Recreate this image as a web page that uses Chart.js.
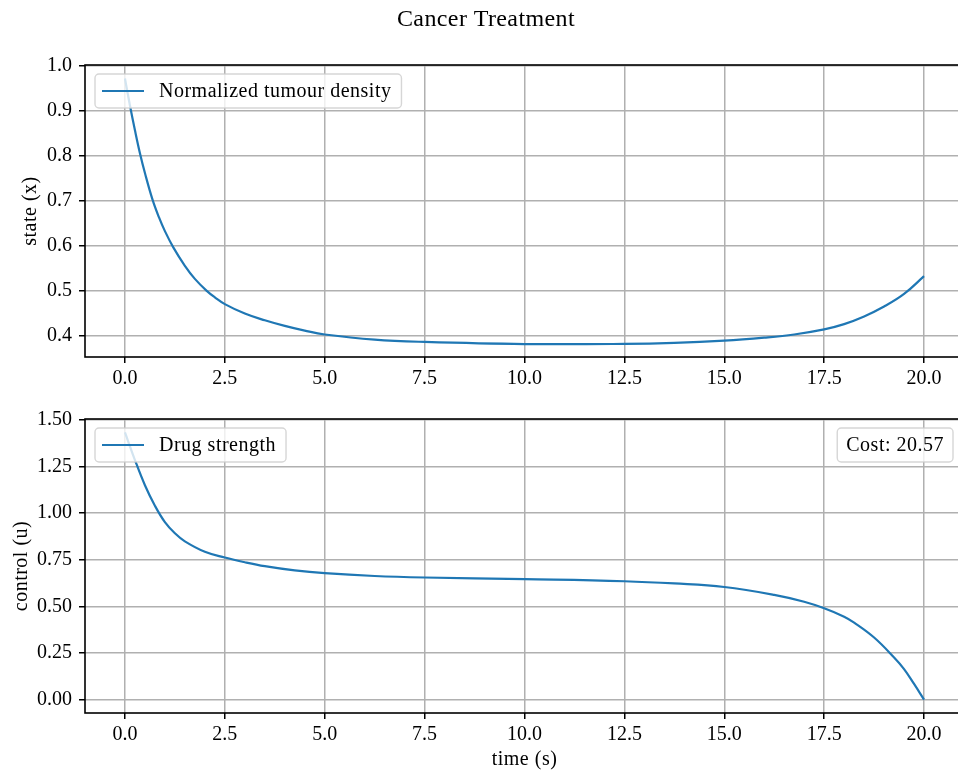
<!DOCTYPE html>
<html>
<head>
<meta charset="utf-8">
<script src="https://cdn.jsdelivr.net/npm/chart.js@4.4.1/dist/chart.umd.min.js"></script>
<style>
  html, body { margin: 0; padding: 0; background: #fff; overflow: hidden; }
  #wrap { position: relative; width: 958px; height: 771px; overflow: hidden; }
  canvas { position: absolute; left: 0; }
  #chartEtat { top: 0; }
  #chartCommande { top: 400px; }
</style>
</head>
<body>
<div id="wrap">
  <canvas id="chartEtat" width="964" height="397"></canvas>
  <canvas id="chartCommande" width="964" height="371"></canvas>
</div>
<script>
// ── Données ─────────────────────────────────────────────
// état x(t) : densité tumorale normalisée
const tempsEtat = [0, 0.125, 0.25, 0.375, 0.5, 0.69, 0.85, 1.0, 1.21, 1.5, 1.75, 2.04, 2.25, 2.5, 3.0, 3.5, 4.0, 4.5, 5.0, 6.25, 7.5, 10, 12.5, 13.75, 15, 16, 16.75, 17.5, 18, 18.5, 19, 19.5, 20];
const valeursEtat = [0.972, 0.912, 0.857, 0.806, 0.762, 0.703, 0.664, 0.633, 0.597, 0.556, 0.527, 0.501, 0.486, 0.471, 0.450, 0.435, 0.4225, 0.412, 0.4035, 0.392, 0.387, 0.3823, 0.3826, 0.3848, 0.3898, 0.3965, 0.4035, 0.4148, 0.4265, 0.4435, 0.4655, 0.4935, 0.533];

// commande u(t) : dose de médicament
const tempsCommande = [0, 0.25, 0.5, 0.75, 1.0, 1.25, 1.5, 2.0, 2.5, 3.0, 3.5, 4.25, 5.0, 6.25, 7.5, 10, 12.5, 13.75, 15, 16.25, 17.0, 17.5, 18.0, 18.25, 18.75, 19.25, 19.5, 19.75, 20];
const valeursCommande = [1.433, 1.285, 1.150, 1.040, 0.952, 0.892, 0.849, 0.793, 0.762, 0.737, 0.716, 0.693, 0.678, 0.663, 0.655, 0.646, 0.635, 0.623, 0.604, 0.562, 0.525, 0.49, 0.445, 0.413, 0.333, 0.226, 0.164, 0.084, 0.0];

// graduations
const ticksTemps = [0, 2.5, 5, 7.5, 10, 12.5, 15, 17.5, 20];
const ticksEtat = [0.4, 0.5, 0.6, 0.7, 0.8, 0.9, 1.0];
const ticksCommande = [0, 0.25, 0.5, 0.75, 1.0, 1.25, 1.5];

const titreFigure = 'Cancer Treatment';
const coutTotal = 'Cost: 20.57';

const BLEU = '#1f77b4';
const POLICE = "'Liberation Serif', 'Times New Roman', serif";
const TAILLE = 20;

// ── Plugin : cadre, légende, titres façon matplotlib ─────
const cadrePlugin = {
    id: 'cadre',
    afterDraw(chart, args, opts) {
        const { ctx, chartArea: a } = chart;
        ctx.save();

        // légende (boîte arrondie semi-transparente)
        ctx.font = TAILLE + 'px ' + POLICE;
        ctx.letterSpacing = '0.5px';
        const label = chart.data.datasets[0].label;
        const bx = a.left + 10, by = a.top + 9, bh = 34;
        const bw = 64 + ctx.measureText(label).width + 10;
        boite(ctx, bx, by, bw, bh);
        ctx.strokeStyle = BLEU;
        ctx.lineWidth = 2.2;
        ctx.beginPath();
        ctx.moveTo(bx + 7, by + bh / 2);
        ctx.lineTo(bx + 49, by + bh / 2);
        ctx.stroke();
        ctx.fillStyle = '#000';
        ctx.textBaseline = 'middle';
        ctx.textAlign = 'left';
        ctx.fillText(label, bx + 64, by + bh / 2 + 1);

        // encadré du coût
        if (opts.cout) {
            const tw = ctx.measureText(opts.cout).width;
            const cw = tw + 18;
            const cx = a.right - 11 - cw;
            boite(ctx, cx, by, cw, bh);
            ctx.fillStyle = '#000';
            ctx.fillText(opts.cout, cx + 9, by + bh / 2 + 1);
        }

        // titre de l'axe Y (vertical)
        ctx.save();
        ctx.translate(opts.yTitreX, (a.top + a.bottom) / 2);
        ctx.rotate(-Math.PI / 2);
        ctx.textAlign = 'center';
        ctx.fillText(opts.yTitre, 0, 0);
        ctx.restore();

        // titre de l'axe X
        if (opts.xTitre) {
            ctx.textAlign = 'center';
            ctx.fillText(opts.xTitre, (a.left + a.right) / 2, a.bottom + 47);
        }

        // titre général
        if (opts.titre) {
            ctx.font = '24px ' + POLICE;
            ctx.letterSpacing = '0.4px';
            ctx.textAlign = 'center';
            ctx.fillText(opts.titre, 486, 20);
        }

        // axes (spines)
        ctx.letterSpacing = '0px';
        ctx.strokeStyle = '#000';
        ctx.lineWidth = 1.6;
        ctx.strokeRect(a.left, a.top, a.right - a.left, a.bottom - a.top);
        ctx.restore();
    }
};

function boite(ctx, x, y, w, h) {
    const r = 4;
    ctx.beginPath();
    ctx.moveTo(x + r, y);
    ctx.arcTo(x + w, y, x + w, y + h, r);
    ctx.arcTo(x + w, y + h, x, y + h, r);
    ctx.arcTo(x, y + h, x, y, r);
    ctx.arcTo(x, y, x + w, y, r);
    ctx.closePath();
    ctx.fillStyle = 'rgba(255,255,255,0.8)';
    ctx.fill();
    ctx.strokeStyle = 'rgba(204,204,204,0.8)';
    ctx.lineWidth = 1.4;
    ctx.stroke();
}

// construit la config d'un sous-graphique
function config(temps, valeurs, label, yMin, yMax, yTicks, decimales, padHaut, hauteurX, extra) {
    return {
        type: 'line',
        data: {
            datasets: [{
                label: label,
                data: temps.map((t, i) => ({ x: t, y: valeurs[i] })),
                borderColor: BLEU,
                borderWidth: 2.2,
                pointRadius: 0,
                tension: 0.4,
                fill: false
            }]
        },
        options: {
            responsive: false,
            animation: false,
            events: [],
            layout: { padding: { top: padHaut, left: 0, right: 0, bottom: 0 } },
            plugins: {
                legend: { display: false },
                tooltip: { enabled: false },
                cadre: extra
            },
            scales: {
                x: {
                    type: 'linear',
                    min: -1, max: 21,
                    afterBuildTicks: s => { s.ticks = ticksTemps.map(v => ({ value: v })); },
                    afterFit: s => { s.height = hauteurX; },
                    grid: { color: '#b0b0b0', lineWidth: 1.5, tickLength: 6, tickColor: '#000', tickWidth: 1.5 },
                    border: { display: false },
                    ticks: {
                        font: { family: POLICE, size: TAILLE },
                        color: '#000',
                        padding: 4,
                        maxRotation: 0,
                        callback: v => v.toFixed(1)
                    }
                },
                y: {
                    min: yMin, max: yMax,
                    afterBuildTicks: s => { s.ticks = yTicks.map(v => ({ value: v })); },
                    afterFit: s => { s.width = 85; },
                    grid: { color: '#b0b0b0', lineWidth: 1.5, tickLength: 6, tickColor: '#000', tickWidth: 1.5 },
                    border: { display: false },
                    ticks: {
                        font: { family: POLICE, size: TAILLE },
                        color: '#000',
                        padding: 7,
                        callback: v => v.toFixed(decimales)
                    }
                }
            }
        },
        plugins: [cadrePlugin]
    };
}

new Chart(document.getElementById('chartEtat'),
    config(tempsEtat, valeursEtat, 'Normalized tumour density', 0.3535, 1.002, ticksEtat, 1, 65, 40,
        { yTitre: 'state (x)', yTitreX: 31, titre: titreFigure }));

new Chart(document.getElementById('chartCommande'),
    config(tempsCommande, valeursCommande, 'Drug strength', -0.0717, 1.505, ticksCommande, 2, 17, 58,
        { yTitre: 'control (u)', yTitreX: 22, xTitre: 'time (s)', cout: coutTotal }));
</script>
</body>
</html>
